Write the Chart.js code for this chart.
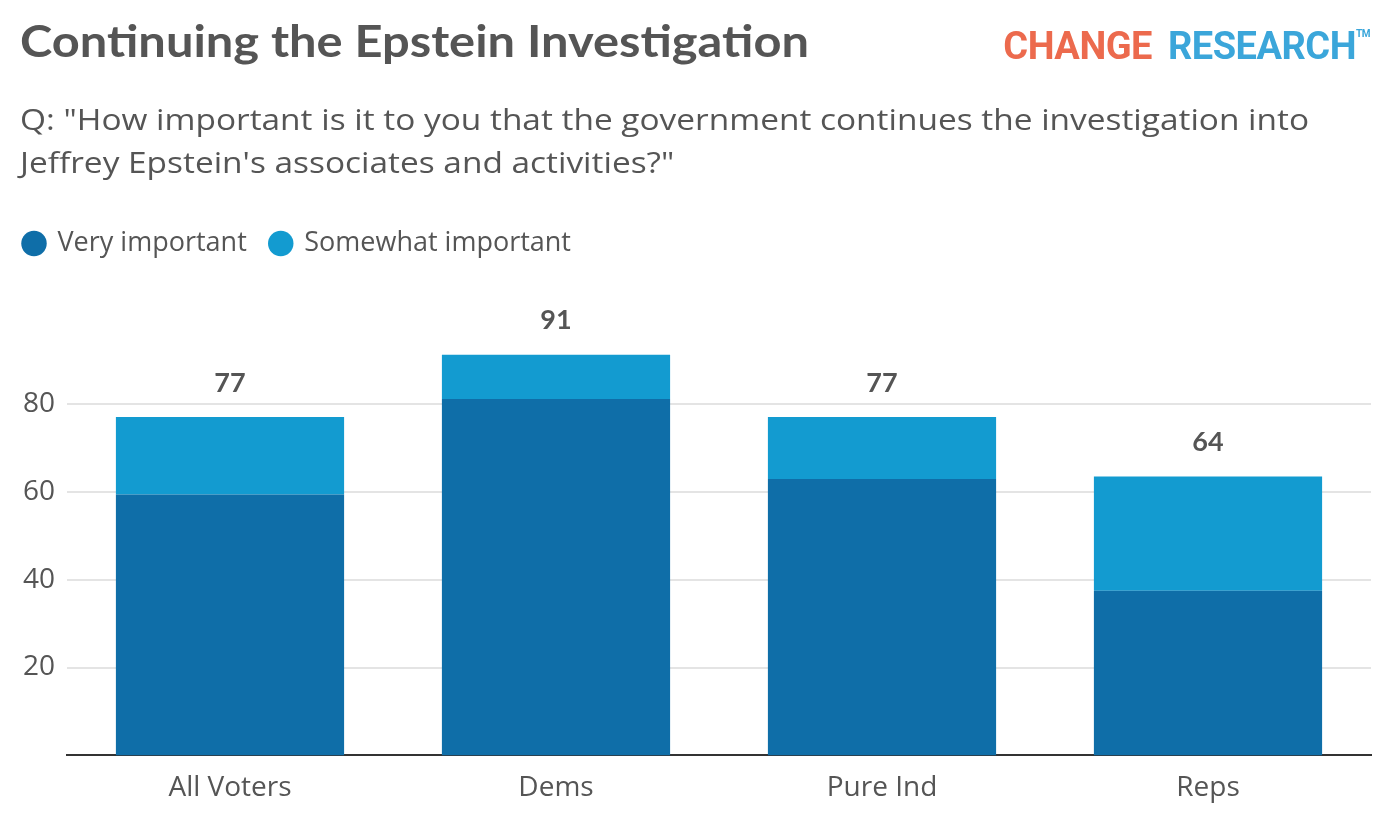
<!DOCTYPE html>
<html>
<head>
<meta charset="utf-8">
<script src="https://cdn.jsdelivr.net/npm/chart.js@4.4.1/dist/chart.umd.min.js"></script>
<style>
  html, body { margin: 0; padding: 0; background: #fff; }
  body { width: 1392px; height: 840px; position: relative; overflow: hidden; font-family: "Open Sans", Lato, sans-serif; }
  .hdr { position: absolute; left: 20px; white-space: nowrap; transform-origin: 0 0; color: #555; }
  #title { top: 15px; font-family: Lato, sans-serif; font-size: 43px; font-weight: 700; }
  #s1 { top: 97px; font-family: "Open Sans", sans-serif; font-size: 30px; line-height: 43px; }
  #s2 { top: 140px; font-family: "Open Sans", sans-serif; font-size: 30px; line-height: 43px; }
  #logo { position: absolute; right: 22px; top: 24px; font-family: Roboto, sans-serif; font-weight: 700; font-size: 38px; letter-spacing: -0.5px; white-space: nowrap; }
  #logo .c { color: #ec6a4d; }
  #logo .r { color: #3ba6da; margin-left: 16px; }
  #logo sup { font-size: 10px; color: #3ba6da; vertical-align: top; position: relative; top: 4px; }
  #wrap { position: absolute; left: 0; top: 0; width: 1392px; height: 840px; }
</style>
</head>
<body>
<div id="wrap"><canvas id="c" width="1392" height="840"></canvas></div>
<div id="title" class="hdr">Continuing the Epstein Investigation</div>
<div id="s1" class="hdr">Q: "How important is it to you that the government continues the investigation into</div>
<div id="s2" class="hdr">Jeffrey Epstein's associates and activities?"</div>
<div id="logo"><span class="c">CHANGE</span><span class="r">RESEARCH</span><sup>TM</sup></div>
<script>
const categories = ["All Voters", "Dems", "Pure Ind", "Reps"];
const veryImportant = [59.4, 81.1, 62.9, 37.5];
const somewhatImportant = [17.6, 10.1, 14.1, 26.0];
const totals = [77, 91, 77, 64];
const yTicks = [20, 40, 60, 80];
const seriesNames = ["Very important", "Somewhat important"];

const TEXT = "#555555";

// widen the header text horizontally to match the original's wider typeface
function fitWidth(el, target) {
  const w = el.getBoundingClientRect().width;
  const k = target / w;
  el.style.transform = "scaleX(" + k.toFixed(4) + ")";
  return k;
}
fitWidth(document.getElementById("title"), 789);
const k = fitWidth(document.getElementById("s1"), 1289);
document.getElementById("s2").style.transform = "scaleX(" + k.toFixed(4) + ")";

const totalLabels = {
  id: "totalLabels",
  afterDatasetsDraw(chart) {
    const ctx = chart.ctx;
    const meta = chart.getDatasetMeta(1);
    ctx.save();
    ctx.font = "700 27px Lato, sans-serif";
    ctx.fillStyle = TEXT;
    ctx.textAlign = "center";
    ctx.textBaseline = "middle";
    meta.data.forEach((bar, i) => {
      ctx.fillText(String(totals[i]), bar.x, bar.y - 34);
    });
    ctx.restore();
  }
};

const legendMargin = {
  id: "legendMargin",
  beforeInit(chart) {
    const orig = chart.legend.fit;
    chart.legend.fit = function () {
      orig.call(this);
      this.height += 49;
    };
  }
};

new Chart(document.getElementById("c"), {
  type: "bar",
  data: {
    labels: categories,
    datasets: [
      { label: seriesNames[0], data: veryImportant, backgroundColor: "#0f6ea8", borderWidth: 0 },
      { label: seriesNames[1], data: somewhatImportant, backgroundColor: "#139bd0", borderWidth: 0 }
    ]
  },
  options: {
    responsive: false,
    animation: false,
    devicePixelRatio: 1,
    layout: { padding: { left: 0, right: 21, top: 206, bottom: 19 } },
    datasets: { bar: { categoryPercentage: 1.0, barPercentage: 0.7 } },
    plugins: {
      legend: {
        position: "top",
        align: "start",
        labels: {
          usePointStyle: true,
          pointStyle: "circle",
          boxWidth: 20,
          boxHeight: 18,
          padding: 24,
          color: TEXT,
          font: { family: "'Open Sans', sans-serif", size: 27 }
        }
      },
      tooltip: { enabled: false }
    },
    scales: {
      x: {
        stacked: true,
        grid: { display: false, drawTicks: false },
        border: { display: true, color: "#333333", width: 2 },
        ticks: { color: TEXT, padding: 16, font: { family: "'Open Sans', sans-serif", size: 28 } }
      },
      y: {
        stacked: true,
        min: 0,
        max: 100,
        afterBuildTicks(scale) {
          scale.ticks = yTicks.map(v => ({ value: v }));
        },
        afterFit(scale) { scale.width = 67; },
        grid: { color: "#e4e4e4", lineWidth: 2, drawTicks: false },
        border: { display: false },
        ticks: { color: TEXT, padding: 12, font: { family: "'Open Sans', sans-serif", size: 28 } }
      }
    }
  },
  plugins: [totalLabels, legendMargin]
});
</script>
</body>
</html>
